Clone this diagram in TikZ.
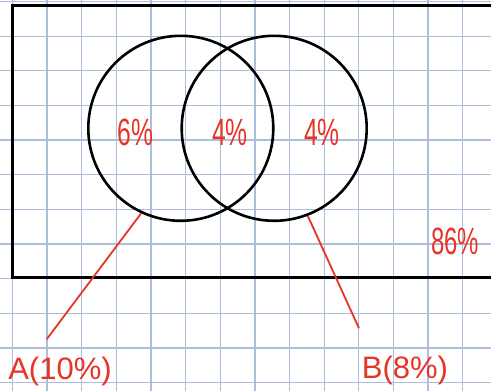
\documentclass[tikz,border=0pt]{standalone}
\usepackage{fontspec}
\setmainfont{Liberation Sans}
\usepackage{xcolor}
\usetikzlibrary{positioning,calc}
\definecolor{gridclr}{RGB}{172,190,220}
\definecolor{inkclr}{RGB}{232,52,38}
\tikzset{
  gridline/.style={draw=gridclr,line width=1.3pt},
  setcirc/.style={circle,draw=black,line width=2.6pt,
                  minimum size=185pt,inner sep=0pt},
  pct/.style={text=inkclr,inner sep=0pt,font=\fontsize{38}{38}\selectfont},
  lbl/.style={pct,font=\fontsize{31}{31}\selectfont},
  pointer/.style={draw=inkclr,line width=1.8pt},
}
\begin{document}
\begin{tikzpicture}[x=1pt, y=-1pt]
\useasboundingbox (0,0) rectangle (491,391);
\clip (0,0) rectangle (491,391);
\fill[white] (0,0) rectangle (491,391);

% ── squared paper
\foreach \k in {0,...,14}{
  \draw[gridline] (12.3+34.65*\k,0) -- (12.3+34.65*\k,391);
  \draw[gridline] (0,1.5+34.65*\k) -- (491,1.5+34.65*\k);
}

% ── universe and the two sets
\draw[line width=3pt] (12.7,5.5) rectangle (500,277.3);
\node[setcirc] (circA) at (180.8,128.3) {};
\node[setcirc] (circB) at (274.2,128.3) {};

% ── region values
\node[pct] (onlyA) at (135.5,132) {\scalebox{0.65}[1]{6\%}};
\node[pct] (both) at (230,132) {\scalebox{0.65}[1]{4\%}};
\node[pct] (onlyB) at (322,132) {\scalebox{0.65}[1]{4\%}};
\node[pct] (none) at (455,241) {\scalebox{0.63}[1]{86\%}};

% ── set labels with pointers
\coordinate (tipA) at (46.7,339.3);
\coordinate (tipB) at (359,328.3);
\node[lbl] (labA) at (60,371) {A(10\%)};
\node[lbl] (labB) at (405,370) {B(8\%)};
\draw[pointer] (circA.245) -- (tipA);
\draw[pointer] (circB.291) -- (tipB);

\end{tikzpicture}
\end{document}
